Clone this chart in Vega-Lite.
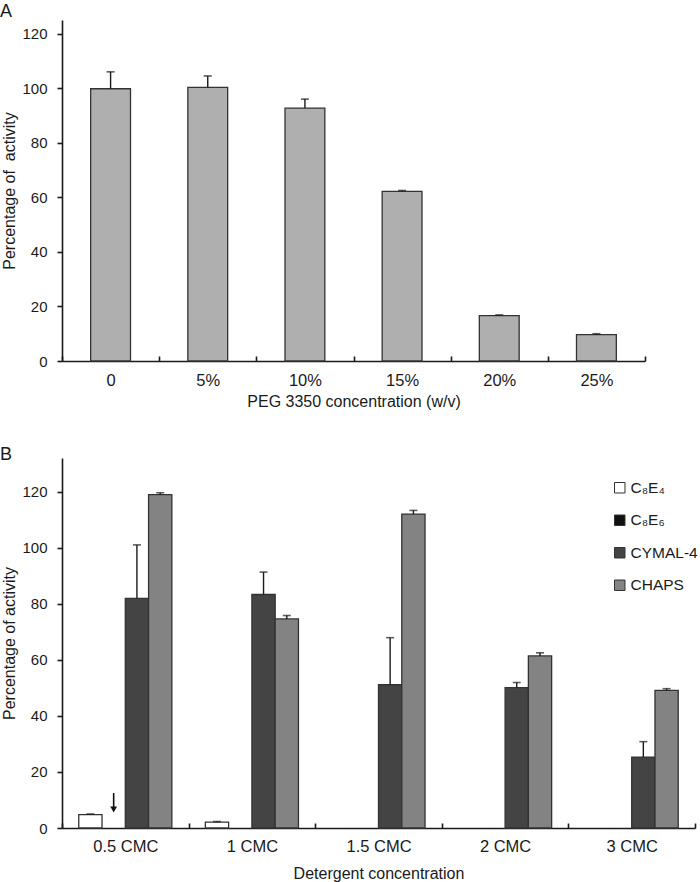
{
  "$schema": "https://vega.github.io/schema/vega-lite/v6.json",
  "padding": {"left": 0, "top": 3, "right": 0, "bottom": 0},
  "background": "white",
  "spacing": 36,
  "config": {
    "font": "Liberation Sans",
    "view": {"stroke": null},
    "axis": {
      "labelFont": "Liberation Sans",
      "titleFont": "Liberation Sans",
      "labelFontSize": 15,
      "titleFontSize": 16,
      "titleFontWeight": "normal",
      "labelColor": "#1a1a1a",
      "titleColor": "#1a1a1a",
      "domainColor": "#1a1a1a",
      "domainWidth": 1.6,
      "tickColor": "#1a1a1a",
      "tickWidth": 1.6,
      "grid": false
    },
    "title": {"fontSize": 18, "fontWeight": "normal", "anchor": "start", "frame": "group", "color": "#1a1a1a", "font": "Liberation Sans"}
  },
  "vconcat": [
    {
      "width": 583,
      "height": 341,
      "title": {"text": "A", "dx": -62, "offset": -1},
      "data": {
        "values": [
          {"peg": "0", "value": 99.8, "err": 106.0},
          {"peg": "5%", "value": 100.3, "err": 104.5},
          {"peg": "10%", "value": 92.7, "err": 96.0},
          {"peg": "15%", "value": 62.2, "err": 62.5},
          {"peg": "20%", "value": 16.6, "err": 16.9},
          {"peg": "25%", "value": 9.7, "err": 10.0}
        ]
      },
      "encoding": {
        "x": {
          "field": "peg",
          "type": "nominal",
          "sort": null,
          "scale": {"paddingInner": 0, "paddingOuter": 0},
          "axis": {
            "title": "PEG 3350 concentration (w/v)",
            "labelAngle": 0,
            "labelFontSize": 16.5,
            "tickBand": "extent",
            "tickSize": -5,
            "labelPadding": 16,
            "titlePadding": 5
          }
        }
      },
      "layer": [
        {
          "mark": {"type": "bar", "fill": "#afafaf", "stroke": "#333333", "strokeWidth": 1.3, "width": {"band": 0.41}},
          "encoding": {
            "y": {
              "field": "value",
              "type": "quantitative",
              "scale": {"domain": [0, 125], "nice": false},
              "axis": {"title": "Percentage of \u00a0activity", "values": [0, 20, 40, 60, 80, 100, 120], "tickSize": 5, "labelPadding": 10, "titlePadding": 4}
            }
          }
        },
        {
          "mark": {"type": "rule", "stroke": "#1a1a1a", "strokeWidth": 1.4},
          "encoding": {"y": {"field": "value", "type": "quantitative"}, "y2": {"field": "err"}}
        },
        {
          "mark": {"type": "tick", "orient": "horizontal", "size": 8, "thickness": 1.6, "color": "#1a1a1a"},
          "encoding": {"y": {"field": "err", "type": "quantitative"}}
        }
      ]
    },
    {
      "width": 633,
      "height": 370,
      "title": {"text": "B", "dx": -62, "offset": -6},
      "data": {
        "values": [
          {"conc": "0.5 CMC", "det": "C₈E₄", "value": 4.8, "err": 5.0},
          {"conc": "0.5 CMC", "det": "CYMAL-4", "value": 81.9, "err": 101.0},
          {"conc": "0.5 CMC", "det": "CHAPS", "value": 118.9, "err": 119.6},
          {"conc": "1 CMC", "det": "C₈E₄", "value": 2.1, "err": 2.3},
          {"conc": "1 CMC", "det": "CYMAL-4", "value": 83.3, "err": 91.3},
          {"conc": "1 CMC", "det": "CHAPS", "value": 74.6, "err": 75.8},
          {"conc": "1.5 CMC", "det": "CYMAL-4", "value": 51.1, "err": 67.9},
          {"conc": "1.5 CMC", "det": "CHAPS", "value": 112.0, "err": 113.3},
          {"conc": "2 CMC", "det": "CYMAL-4", "value": 50.1, "err": 51.9},
          {"conc": "2 CMC", "det": "CHAPS", "value": 61.4, "err": 62.5},
          {"conc": "3 CMC", "det": "CYMAL-4", "value": 25.3, "err": 30.8},
          {"conc": "3 CMC", "det": "CHAPS", "value": 49.1, "err": 49.7}
        ]
      },
      "encoding": {
        "x": {
          "field": "conc",
          "type": "nominal",
          "sort": null,
          "scale": {"domain": ["0.5 CMC", "1 CMC", "1.5 CMC", "2 CMC", "3 CMC"], "paddingInner": 0, "paddingOuter": 0},
          "axis": {
            "title": "Detergent concentration",
            "labelAngle": 0,
            "labelFontSize": 16.5,
            "tickBand": "extent",
            "tickSize": -5,
            "labelPadding": 15,
            "titlePadding": 11
          }
        },
        "xOffset": {
          "field": "det",
          "type": "nominal",
          "scale": {"domain": ["C₈E₄", "C₈E₆", "CYMAL-4", "CHAPS"], "paddingInner": 0, "paddingOuter": 0.72}
        }
      },
      "layer": [
        {
          "mark": {"type": "bar", "stroke": "#333333", "strokeWidth": 1.3},
          "encoding": {
            "y": {
              "field": "value",
              "type": "quantitative",
              "scale": {"domain": [0, 132], "nice": false},
              "axis": {"title": "Percentage of activity", "values": [0, 20, 40, 60, 80, 100, 120], "tickSize": 5, "labelPadding": 10, "titlePadding": 4}
            },
            "color": {
              "field": "det",
              "type": "nominal",
              "scale": {"domain": ["C₈E₄", "C₈E₆", "CYMAL-4", "CHAPS"], "range": ["#ffffff", "#111111", "#444444", "#838383"]},
              "legend": {
                "title": null,
                "orient": "none",
                "legendX": 550,
                "legendY": 460,
                "padding": 0,
                "symbolType": "square",
                "symbolSize": 110,
                "symbolStrokeColor": "#333333",
                "symbolStrokeWidth": 1,
                "labelFontSize": 15.5,
                "labelColor": "#1a1a1a",
                "labelOffset": 3,
                "rowPadding": 15.5
              }
            }
          }
        },
        {
          "mark": {"type": "rule", "stroke": "#1a1a1a", "strokeWidth": 1.4},
          "encoding": {"y": {"field": "value", "type": "quantitative"}, "y2": {"field": "err"}}
        },
        {
          "mark": {"type": "tick", "orient": "horizontal", "size": 8, "thickness": 1.6, "color": "#1a1a1a"},
          "encoding": {"y": {"field": "err", "type": "quantitative"}}
        },
        {
          "data": {"values": [{"conc": "0.5 CMC", "det": "C₈E₆", "tip": 6.6, "top": 12.5}]},
          "mark": {"type": "rule", "stroke": "#111111", "strokeWidth": 1.6},
          "encoding": {"y": {"field": "tip", "type": "quantitative"}, "y2": {"field": "top"}}
        },
        {
          "data": {"values": [{"conc": "0.5 CMC", "det": "C₈E₆", "tip": 6.6, "top": 12.5}]},
          "mark": {"type": "point", "shape": "triangle-down", "filled": true, "size": 45, "color": "#111111", "opacity": 1},
          "encoding": {"y": {"field": "tip", "type": "quantitative"}}
        }
      ]
    }
  ]
}
